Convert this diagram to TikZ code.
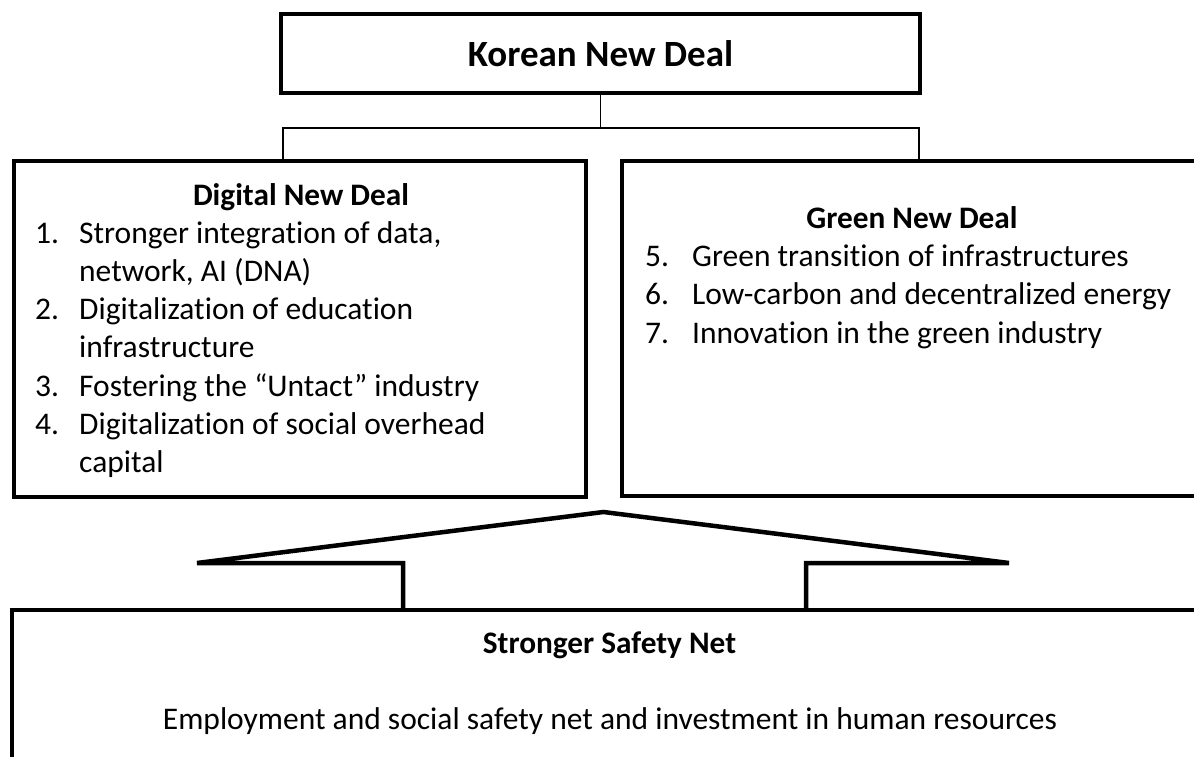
\documentclass[tikz,border=0pt]{standalone}
\usepackage{fontspec}
\setmainfont{Carlito}[Ligatures=CommonOff]
\usetikzlibrary{calc}
\begin{document}
\begin{tikzpicture}[x=1pt,y=-1pt,
  thickbox/.style={draw=black, line width=4.5pt, inner sep=0pt, outer sep=0pt},
  conn/.style={draw=black, line width=1.3pt},
  shapeline/.style={draw=black, line width=4.5pt},
  bigtitle/.style={font=\fontsize{37}{44}\selectfont\bfseries, inner sep=0pt, anchor=base},
  subtitle/.style={font=\fontsize{31.3}{38}\selectfont\bfseries, inner sep=0pt, anchor=base},
  body/.style={font=\fontsize{31.5}{38}\selectfont, inner sep=0pt, anchor=base west},
  bodyc/.style={font=\fontsize{31.5}{38}\selectfont, inner sep=0pt, anchor=base},
]
\useasboundingbox (0,0) rectangle (1194,756);
\clip (0,0) rectangle (1194,756);
\fill[white] (0,0) rectangle (1194,756);

% boxes
\node[thickbox, minimum width=639pt, minimum height=79pt] (knd) at (600.5,53.5) {};
\node[thickbox, minimum width=572pt, minimum height=336pt] (dnd) at (300,329) {};
\node[thickbox, minimum width=592pt, minimum height=335pt] (gnd) at (918,328.5) {};
\node[thickbox, minimum width=1202pt, minimum height=170pt] (ssn) at (613,695) {};

% texts
\node[bigtitle] (kndt) at (600.5,66) {Korean New Deal};

\node[subtitle] (dndt) at (301,205) {Digital New Deal};
\node[body] (n1) at (35,243) {1.};
\node[body] (t1a) at (79,243) {Stronger integration of data,};
\node[body] (t1b) at (79,281.3) {network, AI (DNA)};
\node[body] (n2) at (35,319.6) {2.};
\node[body] (t2a) at (79,319.6) {Digitalization of education};
\node[body] (t2b) at (79,357.9) {infrastructure};
\node[body] (n3) at (35,396.2) {3.};
\node[body] (t3a) at (79,396.2) {Fostering the “Untact” industry};
\node[body] (n4) at (35,434.5) {4.};
\node[body] (t4a) at (79,434.5) {Digitalization of social overhead};
\node[body] (t4b) at (79,472.8) {capital};

\node[subtitle] (gndt) at (912,228) {Green New Deal};
\node[body] (n5) at (645,266) {5.};
\node[body] (t5) at (692,266) {Green transition of infrastructures};
\node[body] (n6) at (645,304.5) {6.};
\node[body] (t6) at (692,304.5) {Low-carbon and decentralized energy};
\node[body] (n7) at (645,343) {7.};
\node[body] (t7) at (692,343) {Innovation in the green industry};

\node[subtitle] (ssnt) at (609.5,653) {Stronger Safety Net};
\node[bodyc] (ssnb) at (610,729) {Employment and social safety net and investment in human resources};

% connectors
\coordinate (jl) at (283,128);
\coordinate (jr) at (919,128);
\draw[conn] (knd.south) |- (jl) -- (jl |- dnd.north);
\draw[conn] (knd.south) |- (jr) -- (jr |- gnd.north);

% arrow-like roof shape
\coordinate (rl) at (403,0);
\coordinate (rr) at (806,0);
\draw[shapeline] (rl |- ssn.north) -- (403,563) -- (197,563) -- (603.5,512)
  -- (1009,563) -- (806,563) -- (rr |- ssn.north);
\end{tikzpicture}
\end{document}
